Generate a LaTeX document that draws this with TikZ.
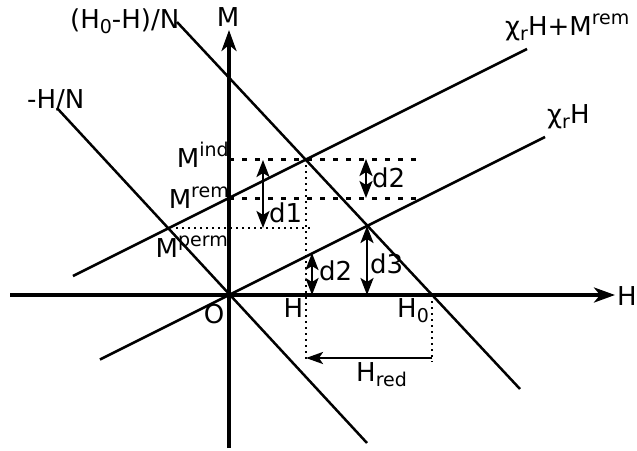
\documentclass[tikz,border=0pt]{standalone}
\usepackage{fontspec}
\setmainfont{DejaVu Sans}
\usetikzlibrary{arrows.meta}
\newcommand{\upx}[1]{\raisebox{11pt}{\fontsize{19}{19}\selectfont #1}}
\newcommand{\dnx}[1]{\raisebox{-5pt}{\fontsize{19}{19}\selectfont #1}}
\begin{document}
\begin{tikzpicture}[x=1pt,y=-1pt,
  axis/.style={line width=3.6pt,-{Stealth[length=21pt,width=15pt,inset=6pt]}},
  ln/.style={line width=2.5pt},
  dsh/.style={line width=3pt,dash pattern=on 5pt off 8pt},
  dtt/.style={line width=2.2pt,dash pattern=on 2pt off 4pt},
  dbl/.style={line width=2.5pt,{Stealth[length=17pt,width=13pt,inset=4pt]}-{Stealth[length=17pt,width=13pt,inset=4pt]}},
  one/.style={line width=2.5pt,-{Stealth[length=17pt,width=12pt,inset=4pt]}},
  lbl/.style={font=\fontsize{26}{30}\selectfont, inner sep=0pt}]
\useasboundingbox (0,0) rectangle (637,450);
% axes
\coordinate (xl) at (10,295); \coordinate (xr) at (615,295);
\coordinate (yb) at (229,448); \coordinate (yt) at (229,30);
\draw[axis] (xl) -- (xr);
\draw[axis] (yb) -- (yt);
% lines
\coordinate (rA) at (73,276); \coordinate (rB) at (527,49);
\coordinate (cA) at (100,359.5); \coordinate (cB) at (545,137);
\coordinate (nA) at (57,108); \coordinate (nB) at (367,443);
\coordinate (hA) at (177,22); \coordinate (hB) at (520,389);
\draw[ln] (rA) -- (rB);
\draw[ln] (cA) -- (cB);
\draw[ln] (nA) -- (nB);
\draw[ln] (hA) -- (hB);
% key points
\coordinate (ind0) at (229,159); \coordinate (ind1) at (418,159);
\coordinate (rem0) at (229,198); \coordinate (rem1) at (418,198);
\coordinate (perm0) at (176,228); \coordinate (perm1) at (312,228);
\coordinate (Pi) at (305.6,159); \coordinate (Pib) at (305.6,362);
\coordinate (H0) at (432,295); \coordinate (H0b) at (432,362);
\draw[dsh] (ind0) -- (ind1);
\draw[dsh] (rem0) -- (rem1);
\draw[dtt] (perm0) -- (perm1);
\draw[dtt] (Pi) -- (Pib);
\draw[dtt] (H0) -- (H0b);
% arrows
\coordinate (d1a) at (263,160); \coordinate (d1b) at (263,228);
\coordinate (d2a) at (366,159); \coordinate (d2b) at (366,198);
\coordinate (d4a) at (312,253); \coordinate (d4b) at (312,295);
\coordinate (d3a) at (367,226); \coordinate (d3b) at (367,295);
\coordinate (hr0) at (432,358); \coordinate (hr1) at (306,358);
\draw[dbl] (d1a) -- (d1b);
\draw[dbl] (d2a) -- (d2b);
\draw[dbl] (d4a) -- (d4b);
\draw[dbl] (d3a) -- (d3b);
\draw[one] (hr0) -- (hr1);
% labels
\node[lbl,anchor=base] (lM) at (228,26) {M};
\node[lbl,anchor=base west] (lHN) at (70,28) {(H\dnx{0}-H)/N};
\node[lbl,anchor=base west] (lmHN) at (27,108) {-H/N};
\node[lbl,anchor=base west] (lcHM) at (505,35) {χ\dnx{r}H+M\upx{rem}};
\node[lbl,anchor=base west] (lcH) at (547,123) {χ\dnx{r}H};
\node[lbl,anchor=base east] (lind) at (229,167) {M\upx{ind}};
\node[lbl,anchor=base east] (lrem) at (229,208) {M\upx{rem}};
\node[lbl,anchor=base east] (lperm) at (228,257) {M\upx{perm}};
\node[lbl,anchor=base] (lO) at (214,323) {O};
\node[lbl,anchor=base] (lH) at (293.5,317) {H};
\node[lbl,anchor=base west] (lH0) at (397,317) {H\dnx{0}};
\node[lbl,anchor=base west] (lHr) at (356,381) {H\dnx{red}};
\node[lbl,anchor=base west] (ld1) at (269,222) {d1};
\node[lbl,anchor=base west] (ld2) at (372,187) {d2};
\node[lbl,anchor=base west] (ld4) at (319,280) {d2};
\node[lbl,anchor=base west] (ld3) at (370,273) {d3};
\node[lbl,anchor=base west] (lHx) at (617,305) {H};
\end{tikzpicture}
\end{document}
